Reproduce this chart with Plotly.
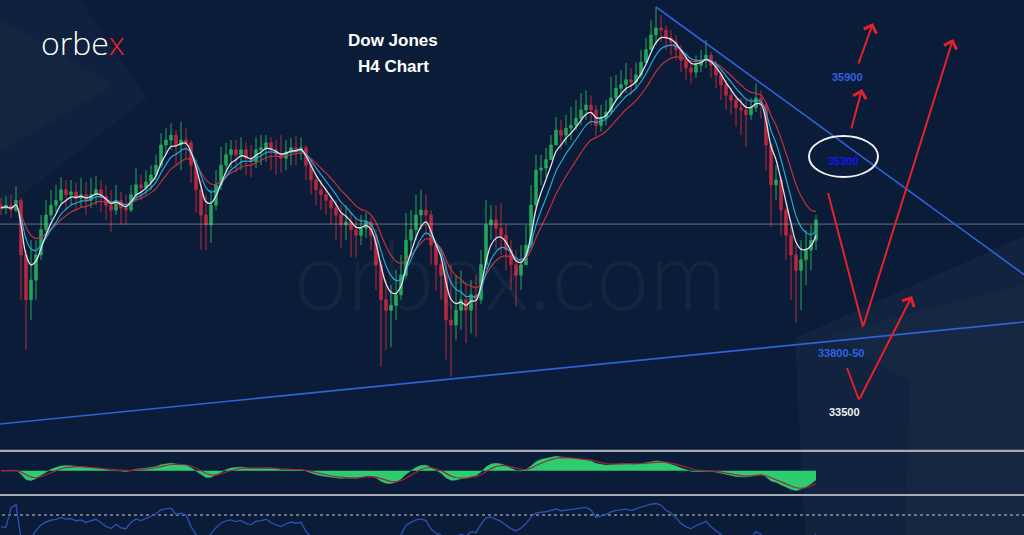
import plotly.graph_objects as go
import pandas as pd
import numpy as np

# ---------------- data (Dow Jones, H4 candles) ----------------
closes = [34965, 34985, 34950, 35020, 34630, 34310, 34450, 34630, 34810, 34915,
          34985, 35020, 35095, 35060, 35080, 35035, 35060, 35020, 35060, 35095,
          35045, 34985, 34950, 35020, 34965, 34950, 35060, 35130, 35110, 35150,
          35200, 35270, 35415, 35450, 35485, 35415, 35450, 35430, 35270, 35095,
          34915, 34845, 34985, 35130, 35270, 35345, 35380, 35345, 35380, 35320,
          35295, 35380, 35395, 35430, 35380, 35345, 35320, 35365, 35395, 35380,
          35395, 35270, 35165, 35095, 35060, 35020, 34965, 34915, 34845, 34865,
          34810, 34770, 34820, 34865, 34770, 34560, 34310, 34235, 34270, 34345,
          34485, 34735, 34810, 34915, 34950, 34915, 34700, 34560, 34485, 34165,
          34130, 34235, 34310, 34235, 34345, 34310, 34560, 34845, 34880, 34820,
          34770, 34665, 34560, 34485, 34560, 34700, 34985, 35235, 35250, 35310,
          35415, 35520, 35485, 35535, 35555, 35605, 35665, 35700, 35665, 35555,
          35605, 35650, 35750, 35820, 35845, 35880, 35865, 35915, 36005, 36095,
          36200, 36250, 36235, 36180, 36150, 36095, 36020, 35965, 35935, 35985,
          36020, 36055, 35985, 35915, 35845, 35770, 35735, 35680, 35665, 35630,
          35680, 35750, 35700, 35415, 35130, 35165, 34950, 34770, 34630, 34520,
          34595, 34665, 34735, 34880]
highs = [35035, 35050, 35060, 35120, 35040, 34665, 34735, 34735, 34915, 35020,
         35095, 35130, 35185, 35165, 35165, 35145, 35180, 35150, 35180, 35195,
         35165, 35130, 35095, 35130, 35080, 35060, 35130, 35250, 35200, 35235,
         35270, 35345, 35500, 35535, 35570, 35520, 35580, 35535, 35450, 35310,
         35165, 35060, 35095, 35235, 35400, 35430, 35450, 35450, 35470, 35435,
         35415, 35470, 35485, 35485, 35470, 35450, 35485, 35450, 35465, 35480,
         35470, 35415, 35310, 35200, 35165, 35110, 35060, 35020, 34985, 34985,
         34935, 34895, 34915, 34930, 34895, 34810, 34595, 34450, 34415, 34520,
         34630, 34930, 34950, 35060, 35095, 35060, 34950, 34735, 34665, 34595,
         34560, 34485, 34520, 34415, 34450, 34485, 34665, 35020, 34985, 34985,
         35000, 34845, 34735, 34665, 34700, 34845, 35130, 35345, 35345, 35395,
         35485, 35615, 35595, 35630, 35685, 35735, 35785, 35805, 35770, 35700,
         35700, 35735, 35900, 35915, 35950, 36000, 35965, 36005, 36095, 36180,
         36305, 36400, 36345, 36270, 36235, 36200, 36130, 36055, 36020, 36055,
         36095, 36165, 36080, 36020, 35950, 35880, 35820, 35770, 35750, 35735,
         35750, 35855, 35805, 35720, 35430, 35270, 35190, 34970, 34845, 34700,
         34735, 34810, 34845, 34915]
lows = [34915, 34920, 34895, 34935, 34310, 33950, 34165, 34310, 34595, 34770,
        34880, 34935, 34985, 34950, 34985, 34950, 34965, 34915, 34965, 34985,
        34935, 34880, 34795, 34915, 34845, 34845, 34935, 35020, 35020, 35060,
        35095, 35165, 35250, 35345, 35380, 35270, 35235, 35310, 35145, 34930,
        34665, 34665, 34715, 34950, 35095, 35220, 35250, 35220, 35235, 35200,
        35185, 35250, 35270, 35295, 35235, 35200, 35215, 35235, 35270, 35270,
        35310, 35165, 35060, 34985, 34950, 34915, 34845, 34735, 34680, 34735,
        34615, 34610, 34700, 34750, 34665, 34380, 33830, 33950, 33970, 34165,
        34310, 34460, 34630, 34735, 34810, 34770, 34560, 34380, 34310, 33880,
        33760, 34020, 34095, 34000, 34070, 34045, 34280, 34530, 34735, 34665,
        34630, 34520, 34380, 34260, 34380, 34560, 34680, 34960, 35130, 35180,
        35310, 35415, 35380, 35415, 35450, 35520, 35555, 35595, 35555, 35470,
        35510, 35555, 35630, 35735, 35750, 35785, 35770, 35820, 35890, 36005,
        36095, 36130, 36150, 36095, 36055, 36020, 35935, 35880, 35855, 35895,
        35935, 35965, 35895, 35820, 35735, 35665, 35630, 35545, 35485, 35400,
        35595, 35650, 35605, 35235, 34830, 35020, 34770, 34595, 34310, 34145,
        34235, 34415, 34520, 34665]
first_open = 34985
opens = [first_open] + closes[:-1]
bars = list(range(len(closes)))

# analyst drawings (price levels / trend lines)
level_labels = ["35900", "35300", "33800-50", "33500"]
resistance_line = [(131.0, 36400), (204.6, 34490)]
support_line = [(-0.2, 33423), (204.6, 34151)]
pivot_level = 34850

# indicator settings
EMA_FAST, EMA_MID, EMA_SLOW = 4, 7, 12
MACD_FAST, MACD_SLOW, MACD_SIG = 5, 11, 4
RSI_N = 9

# ---------------- indicators ----------------
s = pd.Series(closes, dtype=float)
ema_f = s.ewm(span=EMA_FAST, adjust=False).mean()
ema_m = s.ewm(span=EMA_MID, adjust=False).mean()
ema_s = s.ewm(span=EMA_SLOW, adjust=False).mean()
macd = s.ewm(span=MACD_FAST, adjust=False).mean() - s.ewm(span=MACD_SLOW, adjust=False).mean()
sig = macd.ewm(span=MACD_SIG, adjust=False).mean()
d = s.diff()
gain = d.clip(lower=0).ewm(alpha=1 / RSI_N, adjust=False).mean()
loss = (-d.clip(upper=0)).ewm(alpha=1 / RSI_N, adjust=False).mean()
rsi = (100 - 100 / (1 + gain / loss.replace(0, np.nan))).fillna(50)

# ---------------- figure ----------------
W, H = 1024, 535
BG = "#0a1c38"


def X(px):
    return px / W


def Y(py):
    return 1 - py / H


fig = go.Figure()

fig.add_trace(go.Candlestick(
    x=bars, open=opens, high=highs, low=lows, close=closes,
    increasing=dict(line=dict(color="#26a65b", width=1), fillcolor="#26a65b"),
    decreasing=dict(line=dict(color="#b8283e", width=1), fillcolor="#b8283e"),
    whiskerwidth=0, showlegend=False, hoverinfo="skip"))

fig.add_trace(go.Scatter(x=bars, y=ema_s, mode="lines",
                         line=dict(color="#c0323f", width=1.2, shape="spline"), hoverinfo="skip"))
fig.add_trace(go.Scatter(x=bars, y=ema_m, mode="lines",
                         line=dict(color="#22a9d6", width=1.2, shape="spline"), hoverinfo="skip"))
fig.add_trace(go.Scatter(x=bars, y=ema_f, mode="lines",
                         line=dict(color="#dfe4ec", width=1.3, shape="spline"), hoverinfo="skip"))

# MACD panel
fig.add_trace(go.Scatter(x=bars, y=macd, mode="lines", fill="tozeroy",
                         fillcolor="#2ecc71", line=dict(color="#2ecc71", width=0.5),
                         yaxis="y2", hoverinfo="skip"))
fig.add_trace(go.Scatter(x=bars, y=sig, mode="lines",
                         line=dict(color="#a3223c", width=1.2), yaxis="y2", hoverinfo="skip"))

# RSI panel
fig.add_trace(go.Scatter(x=[-1, 205], y=[70, 70], mode="lines",
                         line=dict(color="rgba(170,175,190,0.8)", width=1.5, dash="dot"),
                         yaxis="y3", hoverinfo="skip"))
fig.add_trace(go.Scatter(x=bars, y=rsi, mode="lines",
                         line=dict(color="#2b4fb0", width=1.4), yaxis="y3", hoverinfo="skip"))

mx = float(max(macd.max(), sig.max()))
mn = float(min(macd.min(), sig.min()))
span = max(mx / 0.47, -mn / 0.53) * 1.08
macd_range = [-0.53 * span, 0.47 * span]

shapes = []
# faint background chevrons
shapes.append(dict(type="path", xref="paper", yref="paper", layer="below",
                   path=f"M {X(0)},{Y(0)} L {X(80)},{Y(0)} L {X(147)},{Y(98)} L {X(0)},{Y(212)} Z",
                   fillcolor="rgba(255,255,255,0.025)", line=dict(width=0)))
shapes.append(dict(type="path", xref="paper", yref="paper", layer="below",
                   path=f"M {X(0)},{Y(18)} L {X(115)},{Y(85)} L {X(0)},{Y(152)} Z",
                   fillcolor="rgba(255,255,255,0.02)", line=dict(width=0)))
shapes.append(dict(type="path", xref="paper", yref="paper", layer="below",
                   path=f"M {X(795)},{Y(338)} L {X(1024)},{Y(236)} L {X(1024)},{Y(535)} L {X(805)},{Y(535)} Z",
                   fillcolor="rgba(255,255,255,0.03)", line=dict(width=0)))
shapes.append(dict(type="path", xref="paper", yref="paper", layer="below",
                   path=f"M {X(828)},{Y(335)} L {X(1024)},{Y(285)} L {X(1024)},{Y(535)} L {X(905)},{Y(535)} L {X(910)},{Y(382)} Z",
                   fillcolor="rgba(255,255,255,0.02)", line=dict(width=0)))

# pivot horizontal line
shapes.append(dict(type="line", xref="paper", yref="y", x0=0, x1=1, y0=pivot_level, y1=pivot_level,
                   line=dict(color="rgba(190,195,205,0.5)", width=1)))
# trend lines
shapes.append(dict(type="line", xref="x", yref="y",
                   x0=resistance_line[0][0], y0=resistance_line[0][1],
                   x1=resistance_line[1][0], y1=resistance_line[1][1],
                   line=dict(color="#2f62d8", width=1.6)))
shapes.append(dict(type="line", xref="x", yref="y",
                   x0=support_line[0][0], y0=support_line[0][1],
                   x1=support_line[1][0], y1=support_line[1][1],
                   line=dict(color="#2f62d8", width=1.6)))
# panel separators
for py in (450.8, 495.0):
    shapes.append(dict(type="line", xref="paper", yref="paper", x0=0, x1=1, y0=Y(py), y1=Y(py),
                       line=dict(color="#a7abb5", width=2.2)))
# ellipse around 35300
shapes.append(dict(type="circle", xref="paper", yref="paper",
                   x0=X(809), x1=X(878), y0=Y(177), y1=Y(136),
                   line=dict(color="#f2f2f2", width=2)))
# down strokes of projected paths
RED = "#e5222c"
for (x0, y0, x1, y1) in [(828, 193, 863, 327), (847, 368, 859, 400)]:
    shapes.append(dict(type="line", xref="paper", yref="paper",
                       x0=X(x0), y0=Y(y0), x1=X(x1), y1=Y(y1),
                       line=dict(color=RED, width=2)))

ann = []
# arrows (head, tail)
for (hx, hy, tx, ty) in [(873, 23, 858, 65), (862, 89, 851, 130), (953, 39, 863, 327), (912, 296, 859, 400)]:
    ann.append(dict(xref="paper", yref="paper", x=X(hx), y=Y(hy), ax=tx - hx, ay=ty - hy,
                    axref="pixel", ayref="pixel", text="", showarrow=True,
                    arrowhead=4, arrowsize=1.3, arrowwidth=2, arrowcolor=RED, standoff=0))


def label(px, py, text, size, color, family="Liberation Sans", weight=None):
    f = dict(family=family, size=size, color=color)
    if weight is not None:
        f["weight"] = weight
    return dict(xref="paper", yref="paper", x=X(px), y=Y(py), text=text, showarrow=False,
                xanchor="center", yanchor="middle", font=f)


# watermark
ann.append(label(510, 272, "orbex.com", 96, "rgba(255,255,255,0.045)", family="Lato", weight=300))
# logo
ann.append(label(83, 43, "orbe<span style='color:#e8232b'>x</span>", 32, "#ffffff",
                 family="Open Sans", weight=300))
# title
ann.append(label(393, 40, "<b>Dow Jones</b>", 17, "#ffffff"))
ann.append(label(393, 66, "<b>H4 Chart</b>", 17, "#ffffff"))
# level labels
label_pos = [(847, 77, "#2f62e0"), (843, 161, "#1414f5"), (841, 353, "#2f62e0"), (844, 412, "#f0f0f0")]
for lbl, (lx, ly, col) in zip(level_labels, label_pos):
    ann.append(label(lx, ly, f"<b>{lbl}</b>", 11, col))

fig.update_layout(
    width=W, height=H, margin=dict(l=0, r=0, t=0, b=0),
    paper_bgcolor=BG, plot_bgcolor=BG, showlegend=False,
    xaxis=dict(range=[-0.2, 204.6], visible=False, rangeslider=dict(visible=False), domain=[0, 1]),
    yaxis=dict(domain=[Y(450), 1], range=[33237, 36450], visible=False),
    yaxis2=dict(domain=[Y(492), Y(452)], range=macd_range, visible=False, anchor="x"),
    yaxis3=dict(domain=[0, Y(497)], range=[37, 100], visible=False, anchor="x"),
    shapes=shapes, annotations=ann, hovermode=False,
)

fig.write_html("out.html", config={"displayModeBar": False, "staticPlot": True},
               post_script="document.body.style.margin='0';document.body.style.overflow='hidden';"
                           "document.body.style.background='#0a1c38';")
